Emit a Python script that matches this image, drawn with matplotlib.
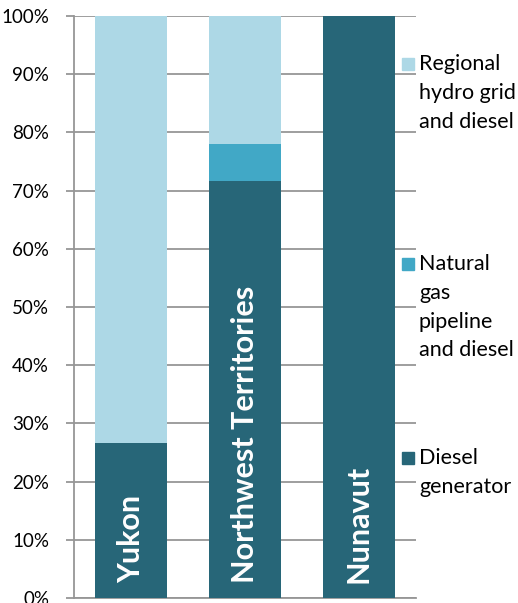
import numpy as np
import matplotlib.pyplot as plt
from matplotlib.patches import Rectangle

plt.rcParams['font.family'] = ['Lato', 'DejaVu Sans']

# data (share of communities, %)
regions = ['Yukon', 'Northwest Territories', 'Nunavut']
diesel = [26.7, 71.7, 100.0]
gas = [0.0, 6.3, 0.0]
hydro = [73.3, 22.0, 0.0]
series_labels = ['Regional\nhydro grid\nand diesel', 'Natural\ngas\npipeline\nand diesel', 'Diesel\ngenerator']
colors = ['#ADD8E6', '#41A8C6', '#276678']
yticks = np.arange(0, 101, 10)

fig = plt.figure(figsize=(5.18, 6.03), dpi=100)
ax = fig.add_axes([74 / 518, 5 / 603, 342 / 518, 582 / 603])

x = np.arange(len(regions))
w = 0.63
ax.bar(x, diesel, w, color=colors[2], zorder=3)
ax.bar(x, gas, w, bottom=diesel, color=colors[1], zorder=3)
ax.bar(x, hydro, w, bottom=np.array(diesel) + np.array(gas), color=colors[0], zorder=3)

for xi, name in zip(x, regions):
    ax.text(xi, 2.6, name, rotation=90, ha='center', va='bottom', color='white',
            fontsize=22, fontweight='bold', zorder=4)

ax.set_xlim(-0.5, 2.5)
ax.set_ylim(0, 100)
ax.set_yticks(yticks)
ax.set_yticklabels([f'{v}%' for v in yticks], fontsize=13.5)
ax.set_xticks([])
ax.yaxis.grid(True, color='#969696', linewidth=1.3, zorder=0)
ax.tick_params(axis='y', length=6, color='#969696', width=1.3, pad=12)
for s in ['top', 'right']:
    ax.spines[s].set_visible(False)
for s in ['left', 'bottom']:
    ax.spines[s].set_color('#969696')
    ax.spines[s].set_linewidth(1.3)

# legend drawn by hand, one block per series
legend_y = [64, 264, 458]
for lab, col, py in zip(series_labels, colors, legend_y):
    fig.patches.append(Rectangle((402 / 518, 1 - (py + 6) / 603), 12 / 518, 12 / 603,
                                 transform=fig.transFigure, color=col, zorder=5))
    fig.text(419 / 518, 1 - (py - 10) / 603, lab, fontsize=15.5, va='top', ha='left',
             linespacing=1.55, zorder=6,
             bbox=dict(facecolor='white', edgecolor='none', pad=0))

fig.savefig('out.png', dpi=100)
